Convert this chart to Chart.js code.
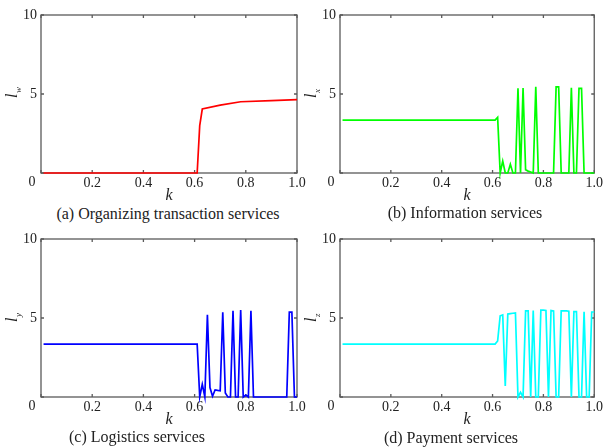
<!DOCTYPE html>
<html lang="en">
<head>
  <meta charset="UTF-8" />
  <title>Service levels versus k</title>
  <script src="https://cdn.jsdelivr.net/npm/chart.js"></script>
  <style>
    body {
      margin: 0;
      background: #fff;
      font-family: "Liberation Serif", "Times New Roman", serif;
    }
    #wrap {
      position: relative;
      width: 605px;
      height: 447px;
      overflow: hidden;
    }
    canvas {
      position: absolute;
    }
    .caption {
      position: absolute;
      width: 300px;
      text-align: center;
      font-size: 16px;
      line-height: 18px;
      color: #222;
      white-space: nowrap;
    }
  </style>
</head>
<body>
  <div id="wrap">
    <canvas id="chartA" width="318" height="205" style="left:0;top:0"></canvas>
    <canvas id="chartB" width="305" height="205" style="left:300px;top:0"></canvas>
    <canvas id="chartC" width="318" height="205" style="left:0;top:224px"></canvas>
    <canvas id="chartD" width="305" height="205" style="left:300px;top:224px"></canvas>
    <div class="caption" style="left:18px;top:205px">(a) Organizing transaction services</div>
    <div class="caption" style="left:315px;top:204px">(b) Information services</div>
    <div class="caption" style="left:-13px;top:428px">(c) Logistics services</div>
    <div class="caption" style="left:301px;top:429px">(d) Payment services</div>
  </div>

  <script>
    // tick positions shared by all four panels
    const kTicks = [0, 0.2, 0.4, 0.6, 0.8, 1.0];
    const lTicks = [0, 5, 10];

    // (a) organizing transaction services
    const kA = [0.01, 0.61, 0.62, 0.63, 0.70, 0.78, 0.90, 1.00];
    const lwA = [0, 0, 3.0, 4.05, 4.3, 4.51, 4.58, 4.64];

    // (b) information services
    const kB = [0.01, 0.61, 0.62, 0.63, 0.64, 0.65, 0.66, 0.67, 0.68, 0.69, 0.70, 0.71, 0.72, 0.73, 0.74, 0.75,
                0.76, 0.77, 0.78, 0.84, 0.85, 0.86, 0.87, 0.90, 0.91, 0.92, 0.93, 0.94, 0.95, 0.96, 1.00];
    const lxB = [3.35, 3.35, 3.52, 0, 0.76, 0, 0, 0.55, 0, 0, 5.36, 0, 5.38, 0.2, 0.12, 0.06,
                 0, 5.46, 0, 0, 5.45, 5.45, 0, 0, 5.4, 0, 0, 5.35, 5.35, 0, 0];

    // (c) logistics services
    const kC = [0.01, 0.61, 0.62, 0.63, 0.64, 0.65, 0.66, 0.67, 0.68, 0.69, 0.70, 0.71, 0.72, 0.73, 0.74,
                0.75, 0.76, 0.77, 0.78, 0.79, 0.80, 0.81, 0.82, 0.83, 0.96, 0.97, 0.98, 0.99, 1.00];
    const lyC = [3.35, 3.35, 0, 0.8, 0, 5.2, 0.6, 0.05, 0.45, 0.42, 0.4, 5.37, 0.25, 0, 0,
                 5.46, 0, 0, 5.5, 0, 0.12, 0, 5.46, 0, 0, 5.37, 5.37, 0, 0];

    // (d) payment services
    const kD = [0.01, 0.61, 0.62, 0.63, 0.64, 0.65, 0.66, 0.67, 0.68, 0.69, 0.70, 0.71, 0.72, 0.73, 0.74,
                0.75, 0.76, 0.77, 0.78, 0.79, 0.80, 0.81, 0.82, 0.83, 0.84, 0.85, 0.86, 0.87, 0.88, 0.89,
                0.90, 0.91, 0.92, 0.93, 0.94, 0.95, 0.96, 0.97, 0.98, 0.99, 1.00];
    const lzD = [3.35, 3.35, 3.55, 5.14, 5.2, 0.7, 5.25, 5.28, 5.3, 5.32, 0, 0.3, 0, 5.45, 5.45,
                 0, 5.47, 0, 0, 5.5, 5.5, 5.48, 0, 5.47, 5.45, 0, 0, 5.45, 5.45, 5.45,
                 5.43, 0, 5.4, 5.4, 0, 0, 5.4, 0, 0, 5.38, 5.38];

    Chart.defaults.font.family = '"Liberation Serif", "Times New Roman", serif';
    Chart.defaults.font.size = 14;
    Chart.defaults.color = '#222';

    // box frame, inward ticks, the l_sub axis name and the shared corner "0"
    const panelDecor = {
      id: 'panelDecor',
      beforeDatasetsDraw(chart, args, opts) {
        const { ctx, chartArea: a, scales: { x, y } } = chart;
        ctx.save();
        ctx.strokeStyle = '#5a5a5a';
        ctx.lineWidth = 1.3;
        ctx.strokeRect(a.left, a.top, a.right - a.left, a.bottom - a.top);
        ctx.beginPath();
        kTicks.forEach(v => {
          const px = x.getPixelForValue(v);
          ctx.moveTo(px, a.bottom); ctx.lineTo(px, a.bottom - 3);
          ctx.moveTo(px, a.top); ctx.lineTo(px, a.top + 3);
        });
        lTicks.forEach(v => {
          const py = y.getPixelForValue(v);
          ctx.moveTo(a.left, py); ctx.lineTo(a.left + 3, py);
          ctx.moveTo(a.right, py); ctx.lineTo(a.right - 3, py);
        });
        ctx.stroke();

        ctx.fillStyle = '#222';
        ctx.textAlign = 'center';
        ctx.textBaseline = 'middle';
        ctx.font = '14px "Liberation Serif"';
        ctx.fillText('0', a.left - 9, a.bottom + 9);

        ctx.translate(a.left - 24, (a.top + a.bottom) / 2 + 4);
        ctx.rotate(-Math.PI / 2);
        ctx.textAlign = 'left';
        ctx.textBaseline = 'alphabetic';
        ctx.font = 'italic 16px "Liberation Serif"';
        ctx.fillText('l', 0, 0);
        const w = ctx.measureText('l').width;
        ctx.font = 'italic 9px "Liberation Serif"';
        ctx.fillText(opts.sub, w + 0.5, 4);
        ctx.restore();
      }
    };

    function makePanel(id, ks, vals, color, sub, padRight) {
      new Chart(document.getElementById(id), {
        type: 'line',
        data: {
          datasets: [{
            data: ks.map((k, i) => ({ x: k, y: vals[i] })),
            borderColor: color,
            borderWidth: 1.7,
            pointRadius: 0,
            tension: 0,
            fill: false,
            clip: false
          }]
        },
        options: {
          responsive: false,
          animation: false,
          devicePixelRatio: 1,
          layout: { padding: { top: 15, right: padRight, left: 0, bottom: 0 } },
          plugins: {
            legend: { display: false },
            tooltip: { enabled: false },
            panelDecor: { sub: sub }
          },
          scales: {
            x: {
              type: 'linear',
              min: 0,
              max: 1,
              grid: { display: false, drawTicks: false },
              border: { display: false },
              afterFit: s => { s.height = 32; },
              afterBuildTicks: s => { s.ticks = kTicks.map(v => ({ value: v })); },
              ticks: {
                padding: 2,
                maxRotation: 0,
                callback: v => (v === 0 ? '' : v.toFixed(1))
              },
              title: {
                display: true,
                text: 'k',
                font: { size: 16, style: 'italic' },
                padding: { top: 0, bottom: 0 }
              }
            },
            y: {
              min: 0,
              max: 10,
              grid: { display: false, drawTicks: false },
              border: { display: false },
              afterFit: s => { s.width = id === 'chartA' || id === 'chartC' ? 41 : 40; },
              afterBuildTicks: s => { s.ticks = lTicks.map(v => ({ value: v })); },
              ticks: {
                padding: 4,
                callback: v => (v === 0 ? '' : String(v))
              }
            }
          }
        },
        plugins: [panelDecor]
      });
    }

    makePanel('chartA', kA, lwA, '#ff0000', 'w', 21);
    makePanel('chartB', kB, lxB, '#00ff00', 'x', 9);
    makePanel('chartC', kC, lyC, '#0000ff', 'y', 21);
    makePanel('chartD', kD, lzD, '#00ffff', 'z', 9);
  </script>
</body>
</html>
